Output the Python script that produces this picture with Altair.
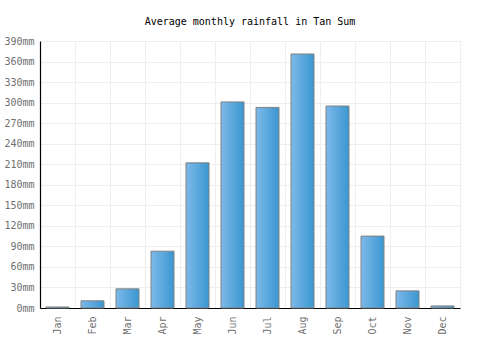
import altair as alt
import pandas as pd

months = ["Jan", "Feb", "Mar", "Apr", "May", "Jun", "Jul", "Aug", "Sep", "Oct", "Nov", "Dec"]
rainfall = [1.5, 10.5, 28, 83, 212, 301, 293, 371, 295, 105, 25, 3]
y_ticks = list(range(0, 391, 30))

df = pd.DataFrame({"month": months, "rain": rainfall})

FONT = "DejaVu Sans Mono"

grad = alt.LinearGradient(
    gradient="linear",
    stops=[alt.GradientStop(color="#7db9ea", offset=0), alt.GradientStop(color="#3a97d0", offset=1)],
    x1=0, x2=1, y1=0, y2=0,
)

chart = (
    alt.Chart(df)
    .mark_bar(size=23, color=grad, stroke="#808080", strokeWidth=1)
    .encode(
        x=alt.X(
            "month:N",
            sort=months,
            scale=alt.Scale(paddingInner=0, paddingOuter=0),
            axis=alt.Axis(
                title=None,
                labelAngle=-90,
                labelAlign="right",
                labelBaseline="middle",
                ticks=False,
                labelPadding=8,
                grid=True,
                bandPosition=0,
                gridColor="#eeeeee",
                domainColor="#000000",
                domainWidth=1.2,
                labelFont=FONT,
                labelFontSize=10,
                labelColor="#707070",
            ),
        ),
        y=alt.Y(
            "rain:Q",
            scale=alt.Scale(domain=[0, 390], nice=False),
            axis=alt.Axis(
                title=None,
                values=y_ticks,
                labelExpr="datum.value + 'mm'",
                ticks=False,
                labelPadding=6,
                gridColor="#eeeeee",
                domainColor="#000000",
                domainWidth=1.2,
                labelFont=FONT,
                labelFontSize=10,
                labelColor="#707070",
            ),
        ),
    )
    .properties(
        width=420,
        height=267,
        title=alt.TitleParams(
            "Average monthly rainfall in Tan Sum",
            font=FONT,
            fontSize=10,
            fontWeight="normal",
            color="#000000",
            anchor="middle",
            offset=9,
        ),
        autosize=alt.AutoSizeParams(type="none"),
        padding={"left": 40, "top": 41, "right": 40, "bottom": 42},
    )
    .configure_view(stroke="#eeeeee")
)

chart.save("out.html", embed_options={"renderer": "svg", "actions": False})
